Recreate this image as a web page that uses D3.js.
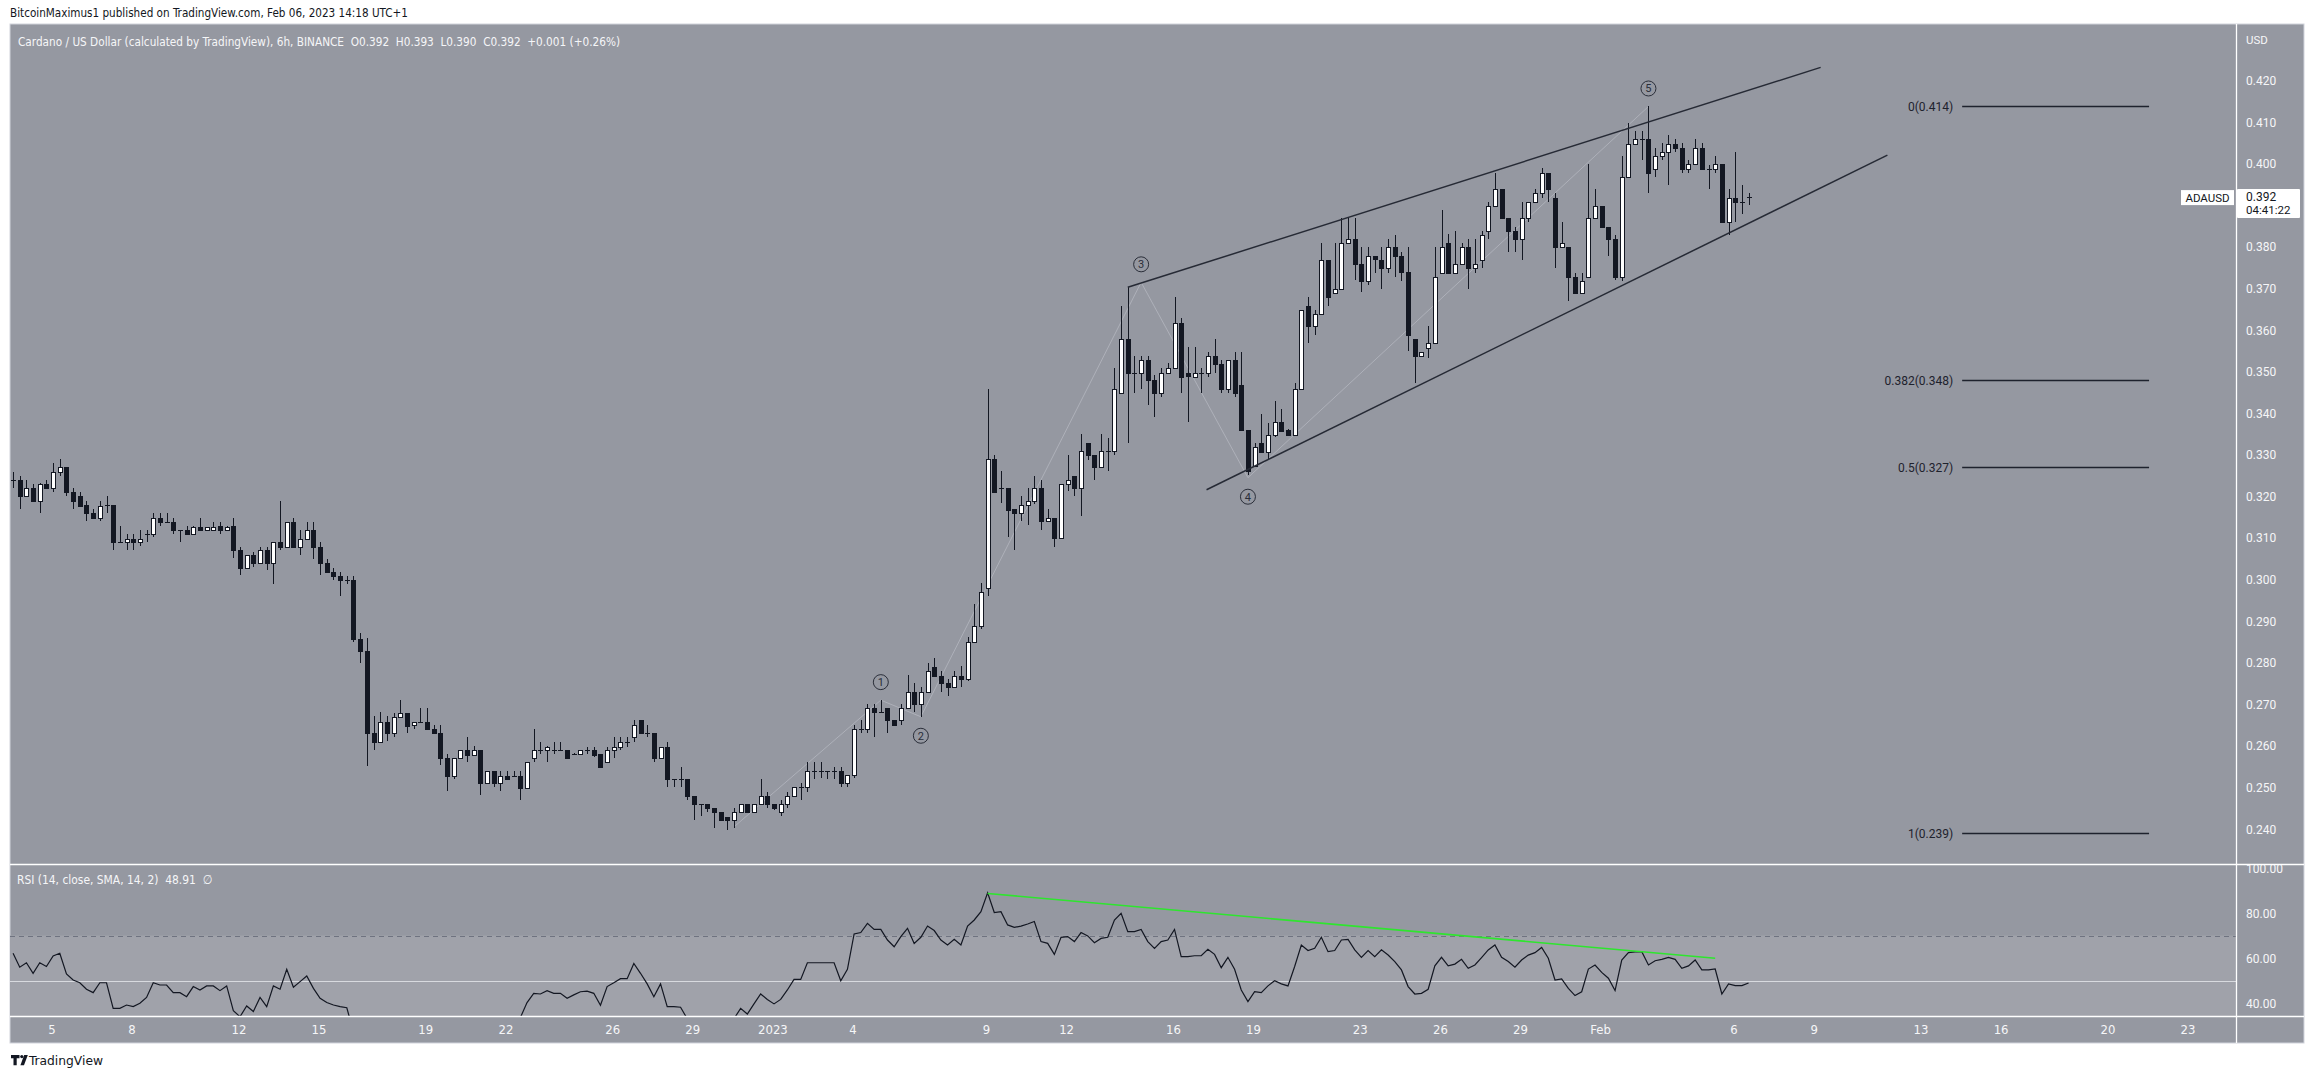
<!DOCTYPE html>
<html><head><meta charset="utf-8">
<script src="https://cdn.jsdelivr.net/npm/d3@7/dist/d3.min.js"></script>
<style>html,body{margin:0;padding:0;background:#fff;overflow:hidden}svg{display:block}</style>
</head><body>
<svg id="chart" width="2314" height="1079"></svg>
<script>
// ---------- DATA (6h bars, first bar Dec 3 2022 13:00 UTC+1) ----------
const opens = [
.3240,.3240,.3200,.3220,.3190,.3229,.3220,.3258,.3270,.3210,
.3200,.3180,.3159,.3149,.3179,.3179,.3090,.3090,.3098,.3090,
.3109,.3109,.3149,.3139,.3139,.3119,.3119,.3109,.3127,.3119,
.3119,.3129,.3119,.3129,.3070,.3029,.3058,.3039,.3070,.3039,
.3090,.3079,.3139,.3079,.3098,.3119,.3079,.3039,.3019,.3009,
.2999,.2999,.2857,.2829,.2630,.2610,.2658,.2630,.2670,.2680,
.2649,.2658,.2658,.2640,.2630,.2570,.2528,.2570,.2589,.2578,
.2589,.2510,.2540,.2510,.2528,.2528,.2528,.2499,.2570,.2589,
.2589,.2589,.2589,.2590,.2580,.2580,.2590,.2590,.2580,.2560,
.2590,.2598,.2610,.2621,.2661,.2630,.2630,.2570,.2598,.2520,
.2520,.2520,.2480,.2460,.2460,.2450,.2440,.2430,.2422,.2440,
.2460,.2440,.2460,.2480,.2460,.2440,.2460,.2480,.2500,.2500,
.2540,.2540,.2540,.2540,.2540,.2510,.2530,.2641,.2641,.2690,
.2681,.2690,.2661,.2661,.2690,.2730,.2701,.2730,.2789,.2769,
.2751,.2741,.2769,.2761,.2849,.2889,.2979,.3290,.3220,.3220,
.3170,.3160,.3180,.3188,.3220,.3140,.3149,.3099,.3229,.3249,
.3220,.3329,.3300,.3270,.3309,.3309,.3448,.3578,.3498,.3498,
.3528,.3480,.3448,.3498,.3508,.3618,.3498,.3488,.3498,.3498,
.3538,.3519,.3458,.3528,.3468,.3360,.3272,.3328,.3308,.3348,
.3378,.3360,.3348,.3458,.3658,.3609,.3638,.3769,.3689,.3698,
.3809,.3819,.3759,.3719,.3778,.3769,.3749,.3799,.3778,.3739,
.3578,.3538,.3558,.3568,.3738,.3809,.3738,.3758,.3799,.3749,
.3769,.3839,.3899,.3939,.3869,.3839,.3819,.3869,.3909,.3929,
.3979,.3919,.3799,.3799,.3729,.3689,.3729,.3869,.3899,.3849,
.3819,.3729,.3969,.4047,.4059,.4059,.3988,.4019,.4028,.4047,
.4037,.3988,.3999,.4037,.3988,.3988,.3999,.3859,.3917,.3909,
.3920];
const highs = [
.3258,.3249,.3240,.3229,.3233,.3240,.3280,.3289,.3270,.3220,
.3210,.3189,.3169,.3189,.3201,.3179,.3129,.3109,.3109,.3119,
.3119,.3159,.3159,.3159,.3149,.3119,.3129,.3129,.3149,.3127,
.3139,.3139,.3129,.3149,.3079,.3058,.3066,.3079,.3079,.3090,
.3189,.3139,.3149,.3119,.3139,.3139,.3090,.3050,.3029,.3019,
.3009,.3009,.2871,.2859,.2672,.2682,.2672,.2680,.2710,.2680,
.2658,.2690,.2690,.2650,.2650,.2580,.2570,.2589,.2621,.2600,
.2589,.2540,.2540,.2540,.2540,.2540,.2540,.2560,.2641,.2610,
.2600,.2610,.2610,.2590,.2582,.2590,.2598,.2598,.2580,.2598,
.2621,.2621,.2621,.2661,.2661,.2650,.2630,.2598,.2610,.2520,
.2550,.2520,.2480,.2460,.2460,.2450,.2440,.2430,.2450,.2460,
.2460,.2460,.2520,.2490,.2460,.2470,.2490,.2500,.2510,.2560,
.2560,.2560,.2540,.2550,.2550,.2530,.2650,.2661,.2701,.2701,
.2710,.2690,.2661,.2701,.2771,.2751,.2741,.2799,.2811,.2779,
.2761,.2779,.2791,.2861,.2941,.2991,.3458,.3300,.3260,.3220,
.3170,.3200,.3220,.3250,.3240,.3169,.3149,.3229,.3300,.3249,
.3349,.3329,.3300,.3349,.3340,.3508,.3658,.3703,.3538,.3538,
.3538,.3492,.3508,.3520,.3679,.3629,.3559,.3559,.3508,.3548,
.3578,.3528,.3528,.3548,.3548,.3360,.3328,.3398,.3376,.3430,
.3410,.3362,.3472,.3649,.3679,.3649,.3809,.3769,.3809,.3869,
.3869,.3869,.3799,.3799,.3778,.3799,.3819,.3829,.3789,.3799,
.3578,.3548,.3609,.3801,.3889,.3831,.3839,.3809,.3819,.3819,
.3839,.3909,.3979,.3939,.3869,.3849,.3909,.3909,.3939,.3989,
.3979,.3929,.3859,.3799,.3738,.3738,.3999,.3939,.3899,.3849,
.3829,.4019,.4099,.4079,.4079,.4139,.4039,.4049,.4070,.4059,
.4049,.4009,.4059,.4049,.3997,.4019,.3999,.3939,.4028,.3949,
.3930];
const lows = [
.3221,.3170,.3200,.3188,.3161,.3220,.3210,.3250,.3202,.3170,
.3178,.3142,.3149,.3142,.3161,.3071,.3090,.3071,.3071,.3081,
.3090,.3102,.3129,.3139,.3110,.3091,.3109,.3109,.3119,.3119,
.3119,.3110,.3119,.3051,.3011,.3029,.3031,.3039,.3022,.2989,
.3071,.3079,.3079,.3059,.3098,.3050,.3011,.3017,.2999,.2961,
.2989,.2851,.2800,.2552,.2590,.2610,.2612,.2622,.2670,.2632,
.2641,.2658,.2640,.2630,.2554,.2491,.2520,.2570,.2562,.2578,
.2482,.2510,.2502,.2492,.2520,.2528,.2470,.2499,.2562,.2580,
.2562,.2580,.2589,.2570,.2578,.2580,.2580,.2573,.2550,.2560,
.2570,.2590,.2598,.2610,.2630,.2621,.2560,.2570,.2502,.2502,
.2502,.2470,.2422,.2432,.2442,.2402,.2422,.2398,.2402,.2440,
.2440,.2440,.2460,.2450,.2446,.2432,.2450,.2480,.2470,.2490,
.2520,.2522,.2520,.2520,.2502,.2502,.2522,.2630,.2630,.2621,
.2681,.2630,.2650,.2650,.2690,.2681,.2670,.2730,.2769,.2730,
.2721,.2741,.2741,.2757,.2849,.2881,.2961,.3210,.3184,.3102,
.3071,.3140,.3131,.3182,.3119,.3140,.3079,.3099,.3212,.3202,
.3152,.3288,.3240,.3270,.3260,.3300,.3448,.3329,.3448,.3458,
.3420,.3392,.3439,.3498,.3508,.3448,.3380,.3488,.3448,.3488,
.3498,.3448,.3448,.3440,.3360,.3252,.3270,.3308,.3288,.3344,
.3358,.3348,.3348,.3458,.3568,.3589,.3638,.3658,.3689,.3698,
.3809,.3721,.3691,.3709,.3738,.3699,.3738,.3729,.3719,.3551,
.3472,.3538,.3532,.3568,.3738,.3738,.3738,.3758,.3698,.3738,
.3749,.3819,.3899,.3869,.3789,.3789,.3769,.3859,.3909,.3919,
.3909,.3749,.3799,.3670,.3689,.3689,.3729,.3869,.3849,.3779,
.3721,.3719,.3969,.4047,.4009,.3931,.3969,.4009,.3949,.4028,
.3979,.3979,.3999,.3988,.3939,.3979,.3859,.3829,.3859,.3879,
.3900];
const closes = [
.3240,.3200,.3220,.3188,.3229,.3220,.3258,.3270,.3210,.3188,
.3178,.3159,.3149,.3178,.3179,.3090,.3090,.3098,.3090,.3098,
.3109,.3149,.3139,.3139,.3119,.3119,.3109,.3127,.3119,.3127,
.3127,.3119,.3127,.3070,.3029,.3058,.3039,.3070,.3039,.3090,
.3079,.3139,.3079,.3098,.3119,.3079,.3039,.3019,.3009,.2999,
.2999,.2857,.2829,.2630,.2610,.2658,.2630,.2670,.2680,.2648,
.2658,.2658,.2640,.2630,.2570,.2528,.2570,.2589,.2578,.2589,
.2510,.2540,.2510,.2528,.2520,.2528,.2499,.2560,.2589,.2589,
.2598,.2589,.2589,.2570,.2580,.2590,.2590,.2578,.2550,.2590,
.2598,.2610,.2610,.2650,.2630,.2630,.2570,.2598,.2520,.2520,
.2520,.2480,.2460,.2460,.2450,.2440,.2422,.2422,.2440,.2460,
.2440,.2460,.2480,.2460,.2450,.2460,.2480,.2500,.2500,.2540,
.2540,.2540,.2540,.2540,.2510,.2530,.2641,.2641,.2690,.2681,
.2681,.2661,.2650,.2690,.2730,.2701,.2730,.2779,.2769,.2751,
.2741,.2769,.2761,.2849,.2889,.2970,.3290,.3210,.3220,.3167,
.3160,.3180,.3188,.3220,.3140,.3149,.3099,.3229,.3240,.3220,
.3309,.3300,.3270,.3309,.3309,.3458,.3578,.3498,.3498,.3528,
.3480,.3448,.3498,.3508,.3618,.3488,.3490,.3498,.3498,.3538,
.3519,.3458,.3528,.3448,.3360,.3260,.3318,.3308,.3348,.3378,
.3358,.3348,.3458,.3649,.3609,.3638,.3769,.3679,.3698,.3809,
.3819,.3759,.3719,.3778,.3770,.3749,.3799,.3778,.3739,.3589,
.3538,.3548,.3568,.3729,.3799,.3738,.3758,.3799,.3749,.3758,
.3829,.3899,.3939,.3869,.3839,.3819,.3869,.3909,.3929,.3979,
.3939,.3799,.3809,.3729,.3689,.3719,.3869,.3899,.3849,.3819,
.3729,.3969,.4047,.4059,.4059,.3977,.4019,.4028,.4047,.4037,
.3988,.3999,.4037,.3988,.3988,.3999,.3859,.3917,.3909,.3909,
.3920];
const rsiValues = [
62.1,55.9,57.9,53.2,57.9,56.2,60.9,62.1,52.9,50.2,49.0,46.1,44.6,49.0,49.0,37.6,37.6,39.1,38.4,39.9,
42.5,49.0,48.0,48.0,44.6,44.6,42.8,47.3,45.8,47.6,47.6,45.5,47.6,36.6,33.9,38.7,36.2,42.5,38.4,47.6,
46.1,55.0,47.0,49.5,52.0,46.5,42.1,40.2,39.1,38.4,37.9,
27.0,24.5,15.5,14.0,21.0,19.5,25.0,27.5,28.5,25.0,26.5,27.0,25.0,24.0,19.0,16.5,22.0,26.0,25.0,26.5,20.5,25.0,23.0,25.5,24.5,
33.5,40.2,44.3,44.0,45.5,44.3,44.3,42.1,43.6,45.0,45.3,44.3,39.0,47.3,49.0,50.8,50.8,57.6,53.2,48.5,42.8,48.5,38.4,38.4,38.1,
33.0,31.0,27.0,27.0,26.0,25.0,24.0,33.0,
37.6,35.1,39.6,44.0,41.6,39.6,41.6,45.8,50.5,50.5,57.9,57.9,57.9,57.9,57.9,49.9,55.0,70.7,71.3,75.4,
72.7,72.7,68.0,65.0,69.5,73.2,66.5,69.2,74.2,72.2,68.0,65.8,68.3,65.8,74.2,76.9,80.6,89.0,80.2,80.6,
74.7,73.6,74.2,75.1,76.2,67.3,66.5,61.6,69.2,69.5,67.3,71.3,69.8,66.8,68.7,69.2,76.9,79.9,71.7,71.7,
72.7,67.3,64.3,67.3,68.0,72.7,
60.6,60.6,61.0,61.0,63.9,61.6,55.7,60.3,55.0,45.8,40.6,45.0,44.6,47.6,49.9,48.5,47.6,56.2,65.8,63.3,
64.3,69.2,62.8,63.3,68.0,68.3,63.6,60.3,63.3,60.6,63.6,61.3,58.4,54.7,47.3,44.0,44.3,46.1,56.5,60.3,
56.5,57.3,59.4,55.4,56.9,60.2,63.6,65.8,60.3,58.4,55.9,59.1,61.3,62.4,64.7,59.9,50.2,50.7,46.5,43.3,
45.0,55.1,56.9,53.6,51.0,45.5,59.1,62.4,62.7,62.8,56.9,58.8,59.4,60.3,59.4,55.4,56.5,59.1,54.7,54.7,
55.1,44.0,48.5,47.7,47.7,48.9];

const priceTicks = [0.42,0.41,0.40,0.38,0.37,0.36,0.35,0.34,0.33,0.32,0.31,0.30,0.29,0.28,0.27,0.26,0.25,0.24];
const rsiTicks = [100,80,60,40];
const timeTickDates = ['2022-12-05','2022-12-08','2022-12-12','2022-12-15','2022-12-19','2022-12-22','2022-12-26','2022-12-29','2023-01-01','2023-01-04','2023-01-09','2023-01-12','2023-01-16','2023-01-19','2023-01-23','2023-01-26','2023-01-29','2023-02-01','2023-02-06','2023-02-09','2023-02-13','2023-02-16','2023-02-20','2023-02-23'];
const timeTickLabels = ['5','8','12','15','19','22','26','29','2023','4','9','12','16','19','23','26','29','Feb','6','9','13','16','20','23'];

// annotations (bar index, price)
const waveBars = [108,130,136,169,185,245];
const wavePrices = [0.2405,0.2710,0.2670,0.3715,0.3245,0.4138];
const waveLabels = ['','1','2','3','4','5'];
const waveIsPeak = [false,true,false,true,false,true];
const wedgeUpperBars = [167,270.8], wedgeUpperPrices = [0.3703,0.4232];
const wedgeLowerBars = [178.8,280.8], wedgeLowerPrices = [0.3216,0.4021];
const fibLevels = ['0','0.382','0.5','1'];
const fibPrices = [0.414,0.348,0.327,0.239];
const fibBars = [292,320];
const rsiTrendBars = [146,255], rsiTrendValues = [88.7,59.9];
const lastPrice = 0.392, countdown = '04:41:22', symbol = 'ADAUSD';

// ---------- LAYOUT ----------
const svg = d3.select('#chart');
const NARROW = '"Liberation Sans Narrow","DejaVu Sans Condensed","Arial Narrow",sans-serif';
const SANS = 'Roboto,"Open Sans",sans-serif';
const DARK = '#131722', BG = '#9598a1';
const L = 10, PR = 2236, AR = 2304, T = 24, PB = 864, RB = 1016, TB = 1043;

svg.append('rect').attr('width',2314).attr('height',1079).attr('fill','#fff');
svg.append('rect').attr('x',L).attr('y',T).attr('width',AR-L).attr('height',TB-T).attr('fill',BG)
  .attr('stroke','#d1d4dc').attr('stroke-width',1);

const defs = svg.append('defs');
defs.append('clipPath').attr('id','cp').append('rect').attr('x',L).attr('y',T).attr('width',PR-L).attr('height',PB-T);
defs.append('clipPath').attr('id','cr').append('rect').attr('x',L).attr('y',PB+1).attr('width',PR-L).attr('height',RB-PB-1);
defs.append('clipPath').attr('id','cra').append('rect').attr('x',PR+1).attr('y',PB+1).attr('width',AR-PR-1).attr('height',RB-PB-1);

const x = d3.scaleUtc().domain([Date.UTC(2022,11,5), Date.UTC(2023,1,23)]).range([52,2188]);
const firstBar = Date.UTC(2022,11,3,13), BAR = 6*3600e3;
const bx = i => x(new Date(firstBar + i*BAR));
const y = d3.scaleLinear().domain([0.24,0.42]).range([829,80.7]);
const yr = d3.scaleLinear().domain([40,100]).range([1003,868]);

// ---------- RSI pane background ----------
const rsiG = svg.append('g').attr('clip-path','url(#cr)');
rsiG.append('rect').attr('x',L).attr('y',yr(70)).attr('width',PR-L).attr('height',RB-yr(70)).attr('fill','#a0a2aa');
rsiG.append('line').attr('x1',L).attr('x2',PR).attr('y1',Math.round(yr(70))+0.5).attr('y2',Math.round(yr(70))+0.5)
  .attr('stroke','#6f7380').attr('stroke-dasharray','5,4');
rsiG.append('line').attr('x1',L).attr('x2',PR).attr('y1',Math.round(yr(50))+0.5).attr('y2',Math.round(yr(50))+0.5)
  .attr('stroke','#d8dadf').attr('stroke-width',1.2);
rsiG.append('path').datum(rsiValues)
  .attr('d', d3.line().x((v,i)=>bx(i)).y(v=>yr(v)))
  .attr('fill','none').attr('stroke',DARK).attr('stroke-width',1.2);
rsiG.append('line')
  .attr('x1',bx(rsiTrendBars[0])).attr('y1',yr(rsiTrendValues[0]))
  .attr('x2',bx(rsiTrendBars[1])).attr('y2',yr(rsiTrendValues[1]))
  .attr('stroke','#2ee62e').attr('stroke-width',1.6);

// ---------- Price pane ----------
const pg = svg.append('g').attr('clip-path','url(#cp)');

// faint wave path
pg.append('path').datum(d3.range(waveBars.length))
  .attr('d', d3.line().x(k=>bx(waveBars[k])).y(k=>y(wavePrices[k])))
  .attr('fill','none').attr('stroke','#b4b7bf').attr('stroke-width',1).attr('opacity',0.8);

// candles
const cg = pg.append('g').attr('shape-rendering','crispEdges');
d3.range(opens.length).forEach(i=>{
  const o=opens[i],h=highs[i],l=lows[i],c=closes[i];
  const cx = Math.round(bx(i));
  const yh = Math.round(y(h)), yl = Math.round(y(l));
  cg.append('rect').attr('x',cx).attr('y',yh).attr('width',1).attr('height',Math.max(1,yl-yh)).attr('fill',DARK);
  const top = Math.round(y(Math.max(o,c))), bot = Math.round(y(Math.min(o,c)));
  const hg = Math.max(1, bot-top);
  cg.append('rect').attr('x',cx-2).attr('y',top).attr('width',5).attr('height',hg+ (hg>1?1:0)).attr('fill',DARK);
  if (c >= o && hg >= 3) {
    cg.append('rect').attr('x',cx-1).attr('y',top+1).attr('width',3).attr('height',hg-1).attr('fill','#ffffff');
  }
});

// wedge
[[wedgeUpperBars,wedgeUpperPrices],[wedgeLowerBars,wedgeLowerPrices]].forEach(([b,p])=>{
  pg.append('line').attr('x1',bx(b[0])).attr('y1',y(p[0])).attr('x2',bx(b[1])).attr('y2',y(p[1]))
    .attr('stroke','#262a35').attr('stroke-width',1.5);
});

// wave labels
waveLabels.forEach((lab,k)=>{
  if(!lab) return;
  const cx = bx(waveBars[k]), cy = y(wavePrices[k]) + (waveIsPeak[k] ? -18 : 19);
  pg.append('circle').attr('cx',cx).attr('cy',cy).attr('r',7.5).attr('fill','none').attr('stroke','#2a2e39').attr('stroke-width',1);
  pg.append('text').attr('x',cx).attr('y',cy+4).attr('text-anchor','middle').attr('font-family',SANS)
    .attr('font-size',11).attr('fill','#2a2e39').text(lab);
});

// fib levels
fibLevels.forEach((lv,k)=>{
  const yy = Math.round(y(fibPrices[k]))+0.5;
  pg.append('line').attr('x1',bx(fibBars[0])).attr('x2',bx(fibBars[1])).attr('y1',yy).attr('y2',yy)
    .attr('stroke','#1e222d').attr('stroke-width',1.4);
  pg.append('text').attr('x',bx(fibBars[0])-9).attr('y',yy+4.5).attr('text-anchor','end')
    .attr('font-family',SANS).attr('font-size',12).attr('fill','#1e222d')
    .text(`${lv}(${fibPrices[k].toFixed(3)})`);
});

// ---------- separators ----------
const sep = svg.append('g').attr('stroke','#ffffff').attr('stroke-width',1.3);
sep.append('line').attr('x1',L).attr('x2',AR).attr('y1',PB+0.5).attr('y2',PB+0.5);
sep.append('line').attr('x1',L).attr('x2',AR).attr('y1',RB+0.5).attr('y2',RB+0.5);
sep.append('line').attr('x1',PR+0.5).attr('x2',PR+0.5).attr('y1',T).attr('y2',TB);

// ---------- price axis ----------
svg.append('text').attr('x',2246).attr('y',44).attr('font-family',SANS).attr('font-size',11.5).attr('fill','#f5f6f8').text('USD');
priceTicks.forEach(p=>{
  svg.append('text').attr('x',2246).attr('y',y(p)+4.5).attr('font-family',SANS).attr('font-size',12)
    .attr('fill','#f5f6f8').text(p.toFixed(3));
});
// last price box
const yl = y(lastPrice);
svg.append('rect').attr('x',2237).attr('y',yl-8).attr('width',63).attr('height',29).attr('fill','#ffffff').attr('rx',1);
svg.append('text').attr('x',2246).attr('y',yl+4).attr('font-family',SANS).attr('font-size',12).attr('fill',DARK).text(lastPrice.toFixed(3));
svg.append('text').attr('x',2246).attr('y',yl+16.5).attr('font-family',SANS).attr('font-size',11.5).attr('fill',DARK).text(countdown);
svg.append('rect').attr('x',2181).attr('y',yl-7).attr('width',53).attr('height',15).attr('fill','#ffffff');
svg.append('text').attr('x',2207.5).attr('y',yl+4.5).attr('text-anchor','middle').attr('font-family',SANS).attr('font-size',11.5).attr('fill',DARK).text(symbol);

// ---------- RSI axis ----------
const ra = svg.append('g').attr('clip-path','url(#cra)');
rsiTicks.forEach(v=>{
  ra.append('text').attr('x',2246).attr('y',yr(v)+4.5).attr('font-family',SANS).attr('font-size',12)
    .attr('fill','#f5f6f8').text(v.toFixed(2));
});

// ---------- time axis ----------
timeTickDates.forEach((d,k)=>{
  svg.append('text').attr('x',x(new Date(d+'T00:00:00Z'))).attr('y',1034).attr('text-anchor','middle')
    .attr('font-family',NARROW).attr('font-size',13).attr('fill','#f5f6f8').text(timeTickLabels[k]);
});

// ---------- headers ----------
svg.append('text').attr('x',10).attr('y',17).attr('font-family',NARROW).attr('font-size',13).attr('fill',DARK)
  .attr('textLength',398).attr('lengthAdjust','spacingAndGlyphs')
  .text('BitcoinMaximus1 published on TradingView.com, Feb 06, 2023 14:18 UTC+1');
svg.append('text').attr('x',18).attr('y',46).attr('font-family',NARROW).attr('font-size',13).attr('fill','#f5f6f8')
  .attr('textLength',602).attr('lengthAdjust','spacingAndGlyphs')
  .text('Cardano / US Dollar (calculated by TradingView), 6h, BINANCE\u00a0\u00a0O0.392\u00a0\u00a0H0.393\u00a0\u00a0L0.390\u00a0\u00a0C0.392\u00a0\u00a0+0.001 (+0.26%)');
svg.append('text').attr('x',17).attr('y',884).attr('font-family',NARROW).attr('font-size',13).attr('fill','#f5f6f8')
  .attr('textLength',195).attr('lengthAdjust','spacingAndGlyphs')
  .text('RSI (14, close, SMA, 14, 2)\u00a0\u00a048.91\u00a0\u00a0\u2205');

// ---------- TradingView logo ----------
const lg = svg.append('g').attr('fill',DARK);
lg.append('path').attr('d','M11,1055 h8.5 v3.2 h-2.8 v7 h-3.2 v-7 h-2.5 z');
lg.append('circle').attr('cx',21.8).attr('cy',1056.6).attr('r',1.6);
lg.append('path').attr('d','M24.2,1055 h3.6 l-3.8,10.2 h-3.6 z');
svg.append('text').attr('x',29).attr('y',1065).attr('font-family',NARROW).attr('font-size',13).attr('fill',DARK)
  .attr('textLength',74).attr('lengthAdjust','spacingAndGlyphs').text('TradingView');
</script>
</body></html>
